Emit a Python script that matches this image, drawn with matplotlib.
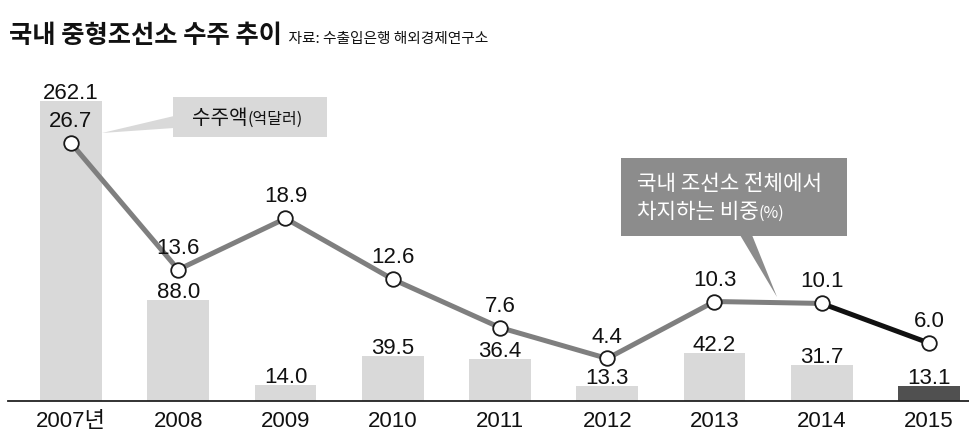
import matplotlib
matplotlib.use("Agg")
import matplotlib.pyplot as plt
from matplotlib import font_manager as fm
from matplotlib.patches import Rectangle, Polygon

# ---------------- data ----------------
years = ['2007년', '2008', '2009', '2010', '2011', '2012', '2013', '2014', '2015']
orders = [262.1, 88.0, 14.0, 39.5, 36.4, 13.3, 42.2, 31.7, 13.1]     # 수주액(억달러)
share = [26.7, 13.6, 18.9, 12.6, 7.6, 4.4, 10.3, 10.1, 6.0]           # 비중(%)
title = '국내 중형조선소 수주 추이'
source = '자료: 수출입은행 해외경제연구소'
bar_callout = ('수주액', '(억달러)')
line_callout = ('국내 조선소 전체에서', '차지하는 비중', '(%)')

# ---------------- fonts ----------------
def has_font(name):
    try:
        fm.findfont(fm.FontProperties(family=name), fallback_to_default=False)
        return True
    except Exception:
        return False

narrow = has_font('Liberation Sans Narrow')
num_font = 'Liberation Sans Narrow' if narrow else 'Liberation Sans'
NUM_SIZE = 17.3 if narrow else 16
NUM = [num_font, 'Noto Sans CJK KR', 'DejaVu Sans']
KR = ['Noto Sans CJK KR', 'DejaVu Sans']
plt.rcParams['font.family'] = KR

W, H = 970, 446
fig = plt.figure(figsize=(W / 100, H / 100), dpi=100)

ax_left, ax_right, ax_bottom, ax_top = 8, 970, 401, 40
ax = fig.add_axes([ax_left / W, (H - ax_bottom) / H, (ax_right - ax_left) / W,
                   (ax_bottom - ax_top) / H])
ax2 = ax.twinx()

x = list(range(len(years)))
x0_px, step_px = 71, 107.25
ax.set_xlim((ax_left - x0_px) / step_px, (ax_right - x0_px) / step_px)
ax.set_ylim(0, (ax_bottom - ax_top) / 1.145)
ax2.set_ylim(0, (ax_bottom - ax_top) / 9.66)

# bars
bar_colors = ['#d9d9d9'] * (len(years) - 1) + ['#505050']
ax.bar(x, orders, width=0.578, color=bar_colors, zorder=1)
for xi, v in zip(x, orders):
    ax.annotate(f'{v:.1f}', (xi, v), xytext=(0, 1.5), textcoords='offset points',
                ha='center', va='baseline', fontsize=NUM_SIZE, family=NUM, color='#111111')

# line
ax2.plot(x[:-1], share[:-1], color='#7f7f7f', lw=3.6, zorder=3, solid_capstyle='round')
ax2.plot(x[-2:], share[-2:], color='#111111', lw=3.6, zorder=3, solid_capstyle='round')
ax2.plot(x, share, ls='none', marker='o', ms=10.5, mfc='white', mec='#1a1a1a',
         mew=1.3, zorder=4)
for xi, v in zip(x, share):
    ax2.annotate(f'{v:.1f}', (xi, v), xytext=(0, 11.5), textcoords='offset points',
                 ha='center', va='baseline', fontsize=NUM_SIZE, family=NUM, color='#111111')

# axes styling
for s in ['top', 'left', 'right']:
    ax.spines[s].set_visible(False)
    ax2.spines[s].set_visible(False)
ax2.spines['bottom'].set_visible(False)
ax.spines['bottom'].set_color('#222222')
ax.spines['bottom'].set_linewidth(1.3)
ax.set_yticks([])
ax2.set_yticks([])
ax.set_xticks(x)
ax.set_xticklabels(years, family=NUM, fontsize=NUM_SIZE, color='#111111')
ax.tick_params(axis='x', length=0, pad=7)
ax2.patch.set_visible(False)


def px2data(px, py):
    return ((px - x0_px) / step_px, (ax_bottom - py) / 9.66)


# callout 1 (bar amount)
bx0, by0 = px2data(173, 137)
bx1, by1 = px2data(327, 97)
ax2.add_patch(Rectangle((bx0, by0), bx1 - bx0, by1 - by0, facecolor='#d9d9d9',
                        edgecolor='none', zorder=2))
ax2.add_patch(Polygon([px2data(174, 116), px2data(174, 128), px2data(102, 133)],
                      closed=True, facecolor='#d9d9d9', edgecolor='none', zorder=2))

# callout 2 (share)
cx0, cy0 = px2data(621, 236)
cx1, cy1 = px2data(847, 158)
ax2.add_patch(Rectangle((cx0, cy0), cx1 - cx0, cy1 - cy0, facecolor='#8c8c8c',
                        edgecolor='none', zorder=2))
ax2.add_patch(Polygon([px2data(740, 235), px2data(752, 235), px2data(777, 297)],
                      closed=True, facecolor='#8c8c8c', edgecolor='none', zorder=2))

# texts in pixel coords (figure)
def fpx(px, py):
    return px / W, (H - py) / H

t_title = fig.text(*fpx(9, 43), title, fontsize=18.2, fontweight='bold',
                   va='baseline', ha='left', color='#111111')
fig.canvas.draw()
r = fig.canvas.get_renderer()


def append_text(prev, s, **kw):
    bb = prev.get_window_extent(r)
    px = prev.get_position()
    return fig.text(bb.x1 / W, px[1], s, va='baseline', ha='left', **kw)


t_src = append_text(t_title, '  ' + source, fontsize=10.6, color='#111111')

t1 = fig.text(*fpx(192, 124), bar_callout[0], fontsize=14.5, va='baseline', ha='left',
              color='#111111')
fig.canvas.draw()
append_text(t1, bar_callout[1], fontsize=11.5, color='#111111')

fig.text(*fpx(637, 190), line_callout[0], fontsize=15.3, va='baseline', ha='left',
         color='white')
t3 = fig.text(*fpx(637, 218), line_callout[1], fontsize=15.3, va='baseline', ha='left',
              color='white')
fig.canvas.draw()
append_text(t3, line_callout[2], fontsize=11.5, color='white')

fig.savefig('out.png', dpi=100, facecolor='white')
